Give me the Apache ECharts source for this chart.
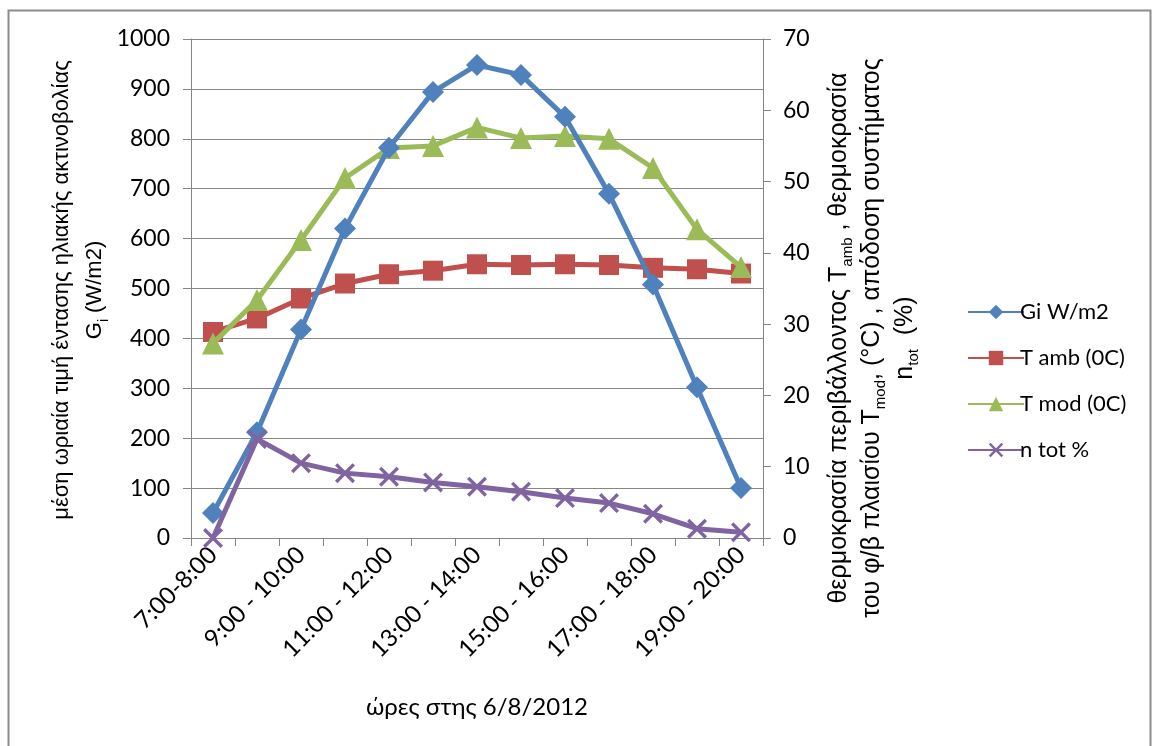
<!DOCTYPE html>
<html>
<head>
<meta charset="utf-8">
<script src="https://cdn.jsdelivr.net/npm/echarts@6/dist/echarts.min.js"></script>
<style>
html,body{margin:0;padding:0;background:#fff;}
#chart{width:1156px;height:746px;}
</style>
</head>
<body>
<div id="chart"></div>
<script>
var categories = ['7:00-8:00','8:00 - 9:00','9:00 - 10:00','10:00 - 11:00','11:00 - 12:00','12:00 - 13:00','13:00 - 14:00','14:00 - 15:00','15:00 - 16:00','16:00 - 17:00','17:00 - 18:00','18:00 - 19:00','19:00 - 20:00'];
var giValues = [50, 212, 418, 620, 782, 894, 948, 928, 844, 690, 508, 302, 100];
var tambValues = [28.9, 30.8, 33.6, 35.7, 37.0, 37.5, 38.4, 38.3, 38.4, 38.3, 37.9, 37.7, 37.1];
var tmodValues = [27.3, 33.4, 41.8, 50.5, 54.7, 55.0, 57.6, 56.1, 56.4, 56.0, 51.9, 43.3, 38.0];
var ntotValues = [0, 13.9, 10.5, 9.1, 8.6, 7.8, 7.2, 6.5, 5.6, 4.9, 3.4, 1.3, 0.8];
var seriesNames = ['Gi W/m2', 'T amb (0C)', 'T mod (0C)', 'n tot %'];

var LATO = 'Lato, "Open Sans", sans-serif';
var NARROW = '"Liberation Sans Narrow", "Arial Narrow", "Liberation Sans", sans-serif';
var xSymbol = 'path://M0,1.2 L1.2,0 L5,3.8 L8.8,0 L10,1.2 L6.2,5 L10,8.8 L8.8,10 L5,6.2 L1.2,10 L0,8.8 L3.8,5 Z';

var chart = echarts.init(document.getElementById('chart'), null, {renderer: 'canvas'});
var axisGray = '#868686';
var option = {
  backgroundColor: '#fff',
  animation: false,
  grid: {left: 191, right: 393, top: 39, bottom: 208, containLabel: false},
  legend: {
    orient: 'vertical',
    left: 962, top: 296,
    itemWidth: 56, itemHeight: 18, itemGap: 24,
    textStyle: {fontFamily: LATO, fontSize: 22, color: '#000', padding: [0,0,0,-9]},
    data: seriesNames
  },
  xAxis: {
    type: 'category',
    data: categories,
    boundaryGap: true,
    axisLine: {lineStyle: {color: axisGray, width: 1}},
    axisTick: {show: true, interval: 0, length: 8, lineStyle: {color: axisGray}},
    axisLabel: {interval: 1, rotate: 45, margin: 13, fontFamily: LATO, fontSize: 24, color: '#000'}
  },
  yAxis: [{
    type: 'value', min: 0, max: 1000, interval: 100, position: 'left',
    axisLine: {show: true, lineStyle: {color: axisGray}},
    axisTick: {show: true, length: 8, lineStyle: {color: axisGray}},
    splitLine: {show: true, lineStyle: {color: axisGray, width: 1}},
    axisLabel: {margin: 21, fontFamily: LATO, fontSize: 23, color: '#000', formatter: function (v) { return String(v); }}
  }, {
    type: 'value', min: 0, max: 70, interval: 10, position: 'right',
    axisLine: {show: true, lineStyle: {color: axisGray}},
    axisTick: {show: true, length: 8, lineStyle: {color: axisGray}},
    splitLine: {show: false},
    axisLabel: {margin: 20, fontFamily: LATO, fontSize: 23, color: '#000', formatter: function (v) { return String(v); }}
  }],
  series: [{
    name: seriesNames[0], type: 'line', yAxisIndex: 0, data: giValues,
    symbol: 'diamond', symbolSize: 22, color: '#4F81BD',
    lineStyle: {width: 5, color: '#4F81BD'}, itemStyle: {color: '#4F81BD'}, z: 5
  }, {
    name: seriesNames[1], type: 'line', yAxisIndex: 1, data: tambValues,
    symbol: 'rect', symbolSize: 20, color: '#C0504D',
    lineStyle: {width: 5, color: '#C0504D'}, itemStyle: {color: '#C0504D'}, z: 3
  }, {
    name: seriesNames[2], type: 'line', yAxisIndex: 1, data: tmodValues,
    symbol: 'triangle', symbolSize: 22, color: '#9BBB59',
    lineStyle: {width: 5, color: '#9BBB59'}, itemStyle: {color: '#9BBB59'}, z: 4
  }, {
    name: seriesNames[3], type: 'line', yAxisIndex: 1, data: ntotValues,
    symbol: xSymbol, symbolSize: 20, color: '#8064A2',
    lineStyle: {width: 5, color: '#8064A2'}, itemStyle: {color: '#8064A2'}, z: 6
  }],
  graphic: [
    {type: 'rect', left: 6, top: 8, shape: {x: 0, y: 0, width: 1142, height: 760},
     style: {fill: 'none', stroke: '#8c8c8c', lineWidth: 2}, silent: true, z: -10},
    {type: 'text', x: 477, y: 707, style: {
      text: 'ώρες στης 6/8/2012', font: '24px ' + LATO, fill: '#000',
      align: 'center', verticalAlign: 'middle', textAlign: 'center', textVerticalAlign: 'middle'}},
    {type: 'text', x: 78, y: 290, rotation: Math.PI / 2, style: {
      text: '{a|μέση ωριαία τιμή έντασης ηλιακής ακτινοβολίας}\n{a|G}{s|i}{a| (W/m2)}',
      align: 'center', verticalAlign: 'middle', textAlign: 'center', textVerticalAlign: 'middle',
      fill: '#000',
      rich: {
        a: {fontFamily: NARROW, fontSize: 22, lineHeight: 33, color: '#000', verticalAlign: 'middle'},
        s: {fontFamily: NARROW, fontSize: 14, lineHeight: 16, color: '#000', verticalAlign: 'bottom'}
      }}},
    {type: 'text', x: 872, y: 338, rotation: Math.PI / 2, style: {
      text: '{a|θερμοκρασία περιβάλλοντος T}{s|amb}{a| , θερμοκρασία}\n{a|του φ/β πλαισίου T}{s|mod}{a|, (°C) , απόδοση συστήματος}\n{a|n}{s|tot}{a|  (%)}',
      align: 'center', verticalAlign: 'middle', textAlign: 'center', textVerticalAlign: 'middle',
      fill: '#000',
      rich: {
        a: {fontFamily: NARROW, fontSize: 25, lineHeight: 33, color: '#000', verticalAlign: 'middle'},
        s: {fontFamily: NARROW, fontSize: 15, lineHeight: 16, color: '#000', verticalAlign: 'bottom'}
      }}}
  ]
};
chart.setOption(option);
</script>
</body>
</html>
